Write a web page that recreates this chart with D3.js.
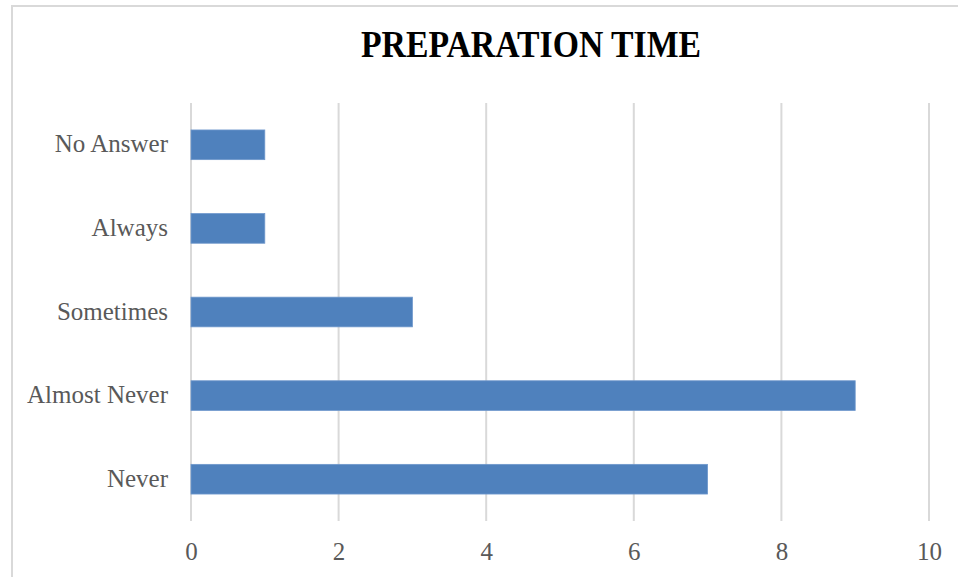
<!DOCTYPE html>
<html>
<head>
<meta charset="utf-8">
<script src="https://cdn.jsdelivr.net/npm/d3@7"></script>
<style>
  html, body { margin: 0; padding: 0; background: #fff; }
  svg { display: block; }
</style>
</head>
<body>
<svg id="chart" width="958" height="577"></svg>
<script>
// Survey responses: how often preparation time is sufficient
const categories = ["No Answer", "Always", "Sometimes", "Almost Never", "Never"];
const counts = [1, 1, 3, 9, 7];
const xTicks = [0, 2, 4, 6, 8, 10];
const chartTitle = "PREPARATION TIME";

const svg = d3.select("#chart");
const W = 958, H = 577;
const plot = { left: 191, right: 929, top: 103, bottom: 521 };

// Chart frame (runs past the right and bottom edges)
svg.append("rect")
  .attr("x", 12).attr("y", 6)
  .attr("width", W + 20).attr("height", H + 20)
  .attr("fill", "#fff")
  .attr("stroke", "#d9d9d9").attr("stroke-width", 2);

const x = d3.scaleLinear().domain([0, 10]).range([plot.left, plot.right]);
const y = d3.scaleBand().domain(categories)
  .range([plot.top, plot.bottom]).paddingInner(0.645).paddingOuter(0.3225);

// Vertical gridlines
svg.append("g").selectAll("line").data(xTicks).join("line")
  .attr("x1", d => x(d)).attr("x2", d => x(d))
  .attr("y1", plot.top).attr("y2", plot.bottom)
  .attr("stroke", "#d9d9d9").attr("stroke-width", 2);

// Bars
svg.append("g").selectAll("rect").data(categories).join("rect")
  .attr("x", x(0))
  .attr("y", d => y(d))
  .attr("width", (d, i) => x(counts[i]) - x(0))
  .attr("height", y.bandwidth())
  .attr("fill", "#4f81bd")
  .attr("stroke", "#6f98cc").attr("stroke-width", 0.8);

// Category labels
const yAxis = d3.axisLeft(y).tickSize(0).tickPadding(23);
const gy = svg.append("g").attr("transform", `translate(${plot.left},0)`).call(yAxis);
gy.select(".domain").remove();
gy.selectAll("text")
  .attr("font-family", "'Liberation Serif', serif")
  .attr("font-size", 25)
  .attr("fill", "#595959")
  .attr("dy", "0.3em");

// Value axis labels
const xAxis = d3.axisBottom(x).tickValues(xTicks).tickSize(0).tickPadding(0).tickFormat(d3.format("d"));
const gx = svg.append("g").attr("transform", `translate(0,${plot.bottom})`).call(xAxis);
gx.select(".domain").remove();
gx.selectAll("text")
  .attr("font-family", "'Liberation Serif', serif")
  .attr("font-size", 25)
  .attr("fill", "#595959")
  .attr("y", 39).attr("dy", 0);

// Title
svg.append("text")
  .attr("x", 531).attr("y", 57)
  .attr("text-anchor", "middle")
  .attr("font-family", "'Liberation Serif', serif")
  .attr("font-weight", "bold")
  .attr("font-size", 38)
  .attr("fill", "#000")
  .attr("textLength", 340)
  .attr("lengthAdjust", "spacingAndGlyphs")
  .text(chartTitle);
</script>
</body>
</html>
